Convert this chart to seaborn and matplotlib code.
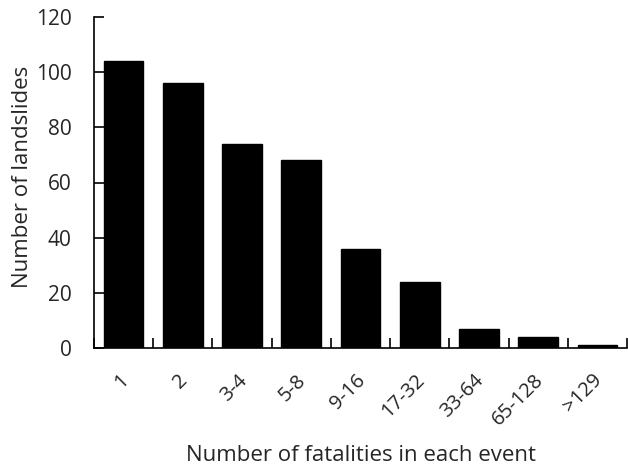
import matplotlib
matplotlib.use("Agg")
import matplotlib.pyplot as plt
import matplotlib.transforms as mtransforms
import seaborn as sns
import pandas as pd
import numpy as np
from matplotlib.ticker import FixedLocator

# Fatality classes and landslide counts
categories = ["1", "2", "3-4", "5-8", "9-16", "17-32", "33-64", "65-128", ">129"]
counts = [104, 96, 74, 68, 36, 24, 7, 4, 1]
y_ticks = [0, 20, 40, 60, 80, 100, 120]

sns.set_theme(style="white")
plt.rcParams["font.family"] = ["Open Sans", "DejaVu Sans"]

df = pd.DataFrame({"fatalities": categories, "landslides": counts})

fig = plt.figure(figsize=(6.28, 4.71), dpi=100)
ax = fig.add_axes([94 / 628, 1 - 348 / 471, (627 - 94) / 628, (348 - 17) / 471])

sns.barplot(data=df, x="fatalities", y="landslides", color="black",
            width=0.67, saturation=1, ax=ax, edgecolor="black")

ax.set_ylim(0, 120)
ax.set_xlim(-0.5, len(categories) - 0.5)
ax.set_yticks(y_ticks)
ax.set_yticklabels([str(v) for v in y_ticks], fontsize=15)

# category labels at centres, tick marks at the category boundaries
ax.set_xticks(range(len(categories)))
ax.set_xticklabels(categories, fontsize=14.5, rotation=45, ha="right",
                   rotation_mode="anchor")
ax.tick_params(axis="x", which="major", length=0, pad=16)
shift = mtransforms.ScaledTranslation(-0.05, 0, fig.dpi_scale_trans)
for lbl in ax.get_xticklabels():
    lbl.set_transform(lbl.get_transform() + shift)
ax.xaxis.set_minor_locator(FixedLocator(np.arange(-0.5, len(categories), 1.0)))
ax.tick_params(axis="x", which="minor", direction="in", length=7,
               width=1.2, color="black", bottom=True)
ax.tick_params(axis="y", direction="in", length=7, width=1.2,
               color="black", left=True, pad=16)

for side in ["top", "right"]:
    ax.spines[side].set_visible(False)
for side in ["left", "bottom"]:
    ax.spines[side].set_color("black")
    ax.spines[side].set_linewidth(1.2)

ax.set_xlabel("Number of fatalities in each event", fontsize=16)
ax.set_ylabel("Number of landslides", fontsize=16)
ax.xaxis.set_label_coords(0.5, -0.292)
ax.yaxis.set_label_coords(-0.114, 0.517)

fig.savefig("out.png", dpi=100)
